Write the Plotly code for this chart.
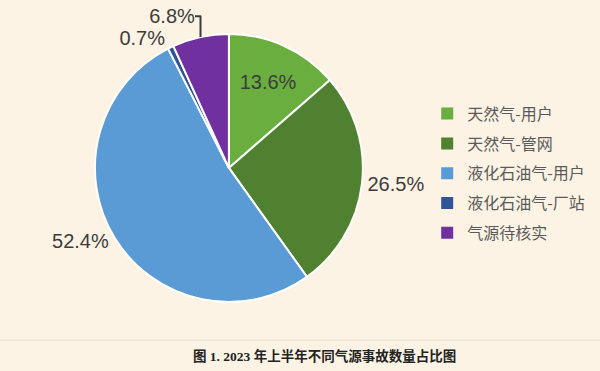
import plotly.graph_objects as go

labels = ["天然气-用户", "天然气-管网", "液化石油气-用户", "液化石油气-厂站", "气源待核实"]
values = [13.6, 26.5, 52.4, 0.7, 6.8]
colors = ["#6aae3f", "#4f8130", "#5b9bd5", "#2f5597", "#7030a0"]
positions = ["inside", "outside", "outside", "outside", "outside"]
caption = "<b>图 1. 2023 年上半年不同气源事故数量占比图</b>"

bg = "#fcf3e4"

fig = go.Figure()
fig.add_trace(go.Pie(
    labels=labels, values=values, sort=False, direction="clockwise", rotation=0,
    marker=dict(colors=colors, line=dict(color="white", width=2)),
    texttemplate="%{percent:.1%}", textposition=positions,
    textfont=dict(family="Liberation Sans, Arial", size=20, color="#3c3c3c"),
    insidetextorientation="horizontal",
    domain=dict(x=[0.146, 0.617], y=[0.205, 1.0]),
    showlegend=False, hoverinfo="label+percent",
))
for i, (lab, col) in enumerate(zip(labels, colors)):
    fig.add_trace(go.Scatter(
        x=[None], y=[None], mode="markers", name=lab, legendgroup=f"g{i}",
        marker=dict(symbol="square", size=10, color=col),
    ))

fig.update_layout(
    width=600, height=371, margin=dict(l=0, r=0, t=0, b=0),
    paper_bgcolor=bg, plot_bgcolor=bg,
    xaxis=dict(visible=False), yaxis=dict(visible=False),
    legend=dict(x=0.712, y=0.814, xanchor="left", yanchor="top", yref="paper",
                font=dict(family="Noto Sans CJK SC", size=16, color="#5a5a5a"),
                tracegroupgap=6, bgcolor="rgba(0,0,0,0)", itemsizing="constant"),
    shapes=[dict(type="line", xref="paper", yref="paper", x0=0, x1=1,
                 y0=1 - 337 / 371, y1=1 - 337 / 371, line=dict(color="#e9e1d2", width=1))],
    annotations=[dict(text=caption, xref="paper", yref="paper", x=0.54, y=1 - 355 / 371,
                      xanchor="center", yanchor="middle", showarrow=False,
                      font=dict(family="Liberation Serif, Noto Sans CJK SC", size=13.5, color="#222222"))],
)
fig.write_html("out.html", config={"displayModeBar": False},
               post_script="document.body.style.margin='0';document.body.style.overflow='hidden';")
